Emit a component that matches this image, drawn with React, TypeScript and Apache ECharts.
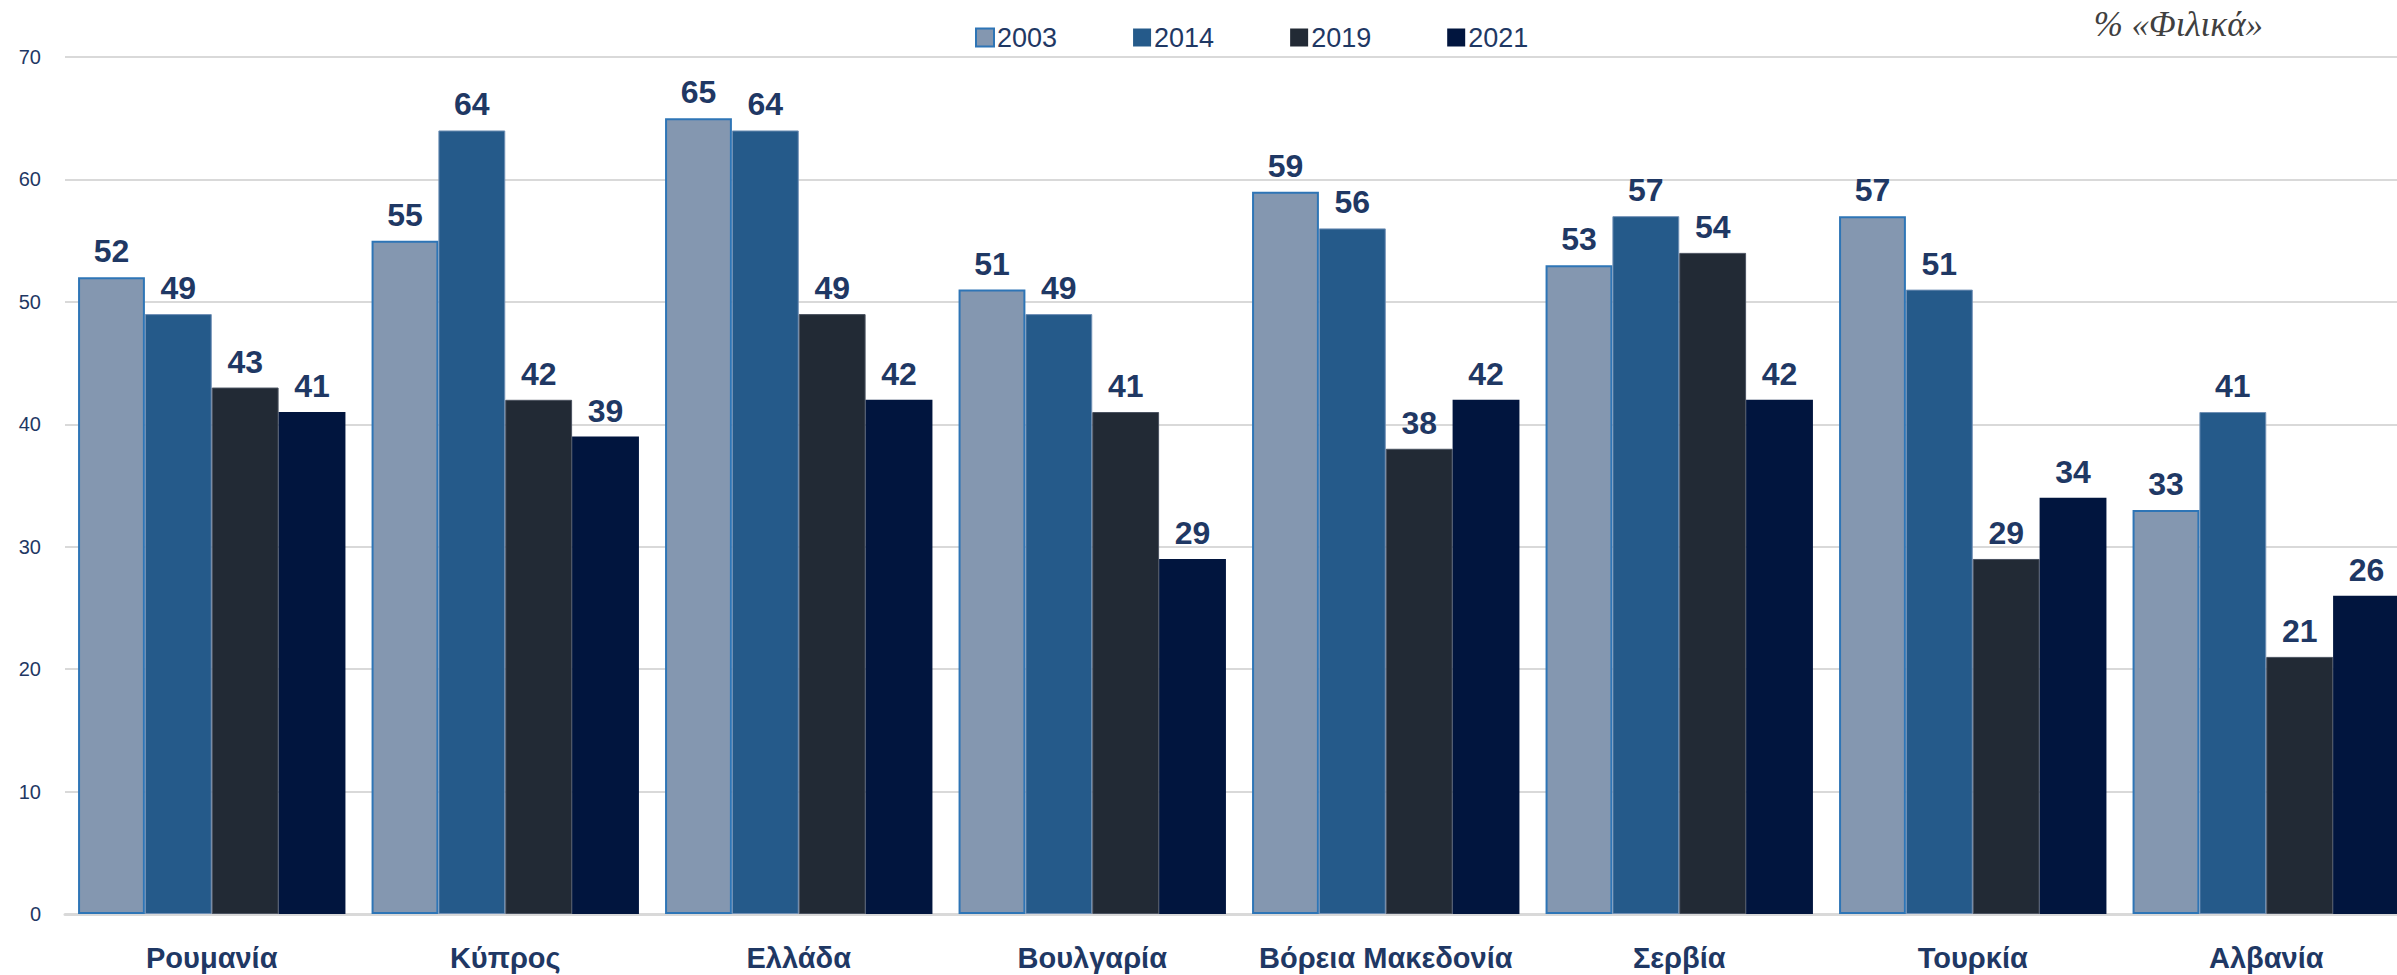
import React, { useEffect, useRef } from "react";
import * as echarts from "echarts";

const categories = ["Ρουμανία", "Κύπρος", "Ελλάδα", "Βουλγαρία", "Βόρεια Μακεδονία", "Σερβία", "Τουρκία", "Αλβανία"];
const years = ["2003", "2014", "2019", "2021"];
const v2003 = [52, 55, 65, 51, 59, 53, 57, 33];
const v2014 = [49, 64, 64, 49, 56, 57, 51, 41];
const v2019 = [43, 42, 49, 41, 38, 54, 29, 21];
const v2021 = [41, 39, 42, 29, 42, 42, 34, 26];
const yTicks = [0, 10, 20, 30, 40, 50, 60, 70];

const TEXT = "#1f3864";
const SANS = "'Liberation Sans', Arial, sans-serif";
const CHART_W = 2413;

export default function App() {
  const ref = useRef<HTMLDivElement>(null);
  useEffect(() => {
    document.body.style.margin = "0";
    if (!ref.current) return;
    const chart = echarts.init(ref.current, undefined, { renderer: "svg" });
    const fills = ["#8497b0", "#255a8a", "#222a35", "#01153e"];
    const borders = ["#2e75b6", "#6f8fb5", "#4a5260", "#01153e"];
    const borderW = [2, 1, 1, 0];
    const all = [v2003, v2014, v2019, v2021];
    chart.setOption({
      animation: false,
      backgroundColor: "#ffffff",
      graphic: [
        {
          type: "text",
          right: CHART_W - 2263,
          top: 7,
          style: {
            text: "% «Φιλικά»",
            font: "italic 35px 'Liberation Serif', 'DejaVu Serif', serif",
            fill: "#404040",
          },
        },
      ],
      legend: {
        left: 970,
        top: 19,
        itemWidth: 18,
        itemHeight: 18,
        itemGap: 76,
        data: years.map((y, i) => ({
          name: y,
          icon: "rect",
          itemStyle: { color: fills[i], borderColor: borders[i], borderWidth: i === 0 ? 2 : 0 },
        })),
        textStyle: { color: TEXT, fontSize: 27, fontFamily: SANS, padding: [0, 0, 0, -2] },
      },
      grid: { left: 65, top: 57, right: 0, bottom: 61, containLabel: false },
      xAxis: {
        type: "category",
        data: categories,
        axisLine: { lineStyle: { color: "#d9d9d9", width: 3 } },
        axisTick: { show: false },
        axisLabel: {
          interval: 0,
          color: TEXT,
          fontSize: 29,
          fontWeight: "bold",
          fontFamily: SANS,
          margin: 29,
        },
      },
      yAxis: {
        type: "value",
        min: yTicks[0],
        max: yTicks[yTicks.length - 1],
        interval: 10,
        axisLine: { show: false },
        axisTick: { show: false },
        splitLine: { lineStyle: { color: "#d9d9d9", width: 2 } },
        axisLabel: { color: TEXT, fontSize: 20, fontFamily: SANS, margin: 24 },
      },
      series: years.map((y, i) => ({
        name: y,
        type: "bar",
        data: all[i],
        barGap: "0%",
        barCategoryGap: "8.9%",
        itemStyle: { color: fills[i], borderColor: borders[i], borderWidth: borderW[i] },
        label: {
          show: true,
          position: "top",
          distance: 10,
          color: TEXT,
          fontSize: 32,
          fontWeight: "bold",
          fontFamily: SANS,
        },
      })),
    });
    return () => chart.dispose();
  }, []);
  return (
    <div style={{ width: 2397, height: 975, overflow: "hidden" }}>
      <div ref={ref} style={{ width: CHART_W, height: 975 }} />
    </div>
  );
}
